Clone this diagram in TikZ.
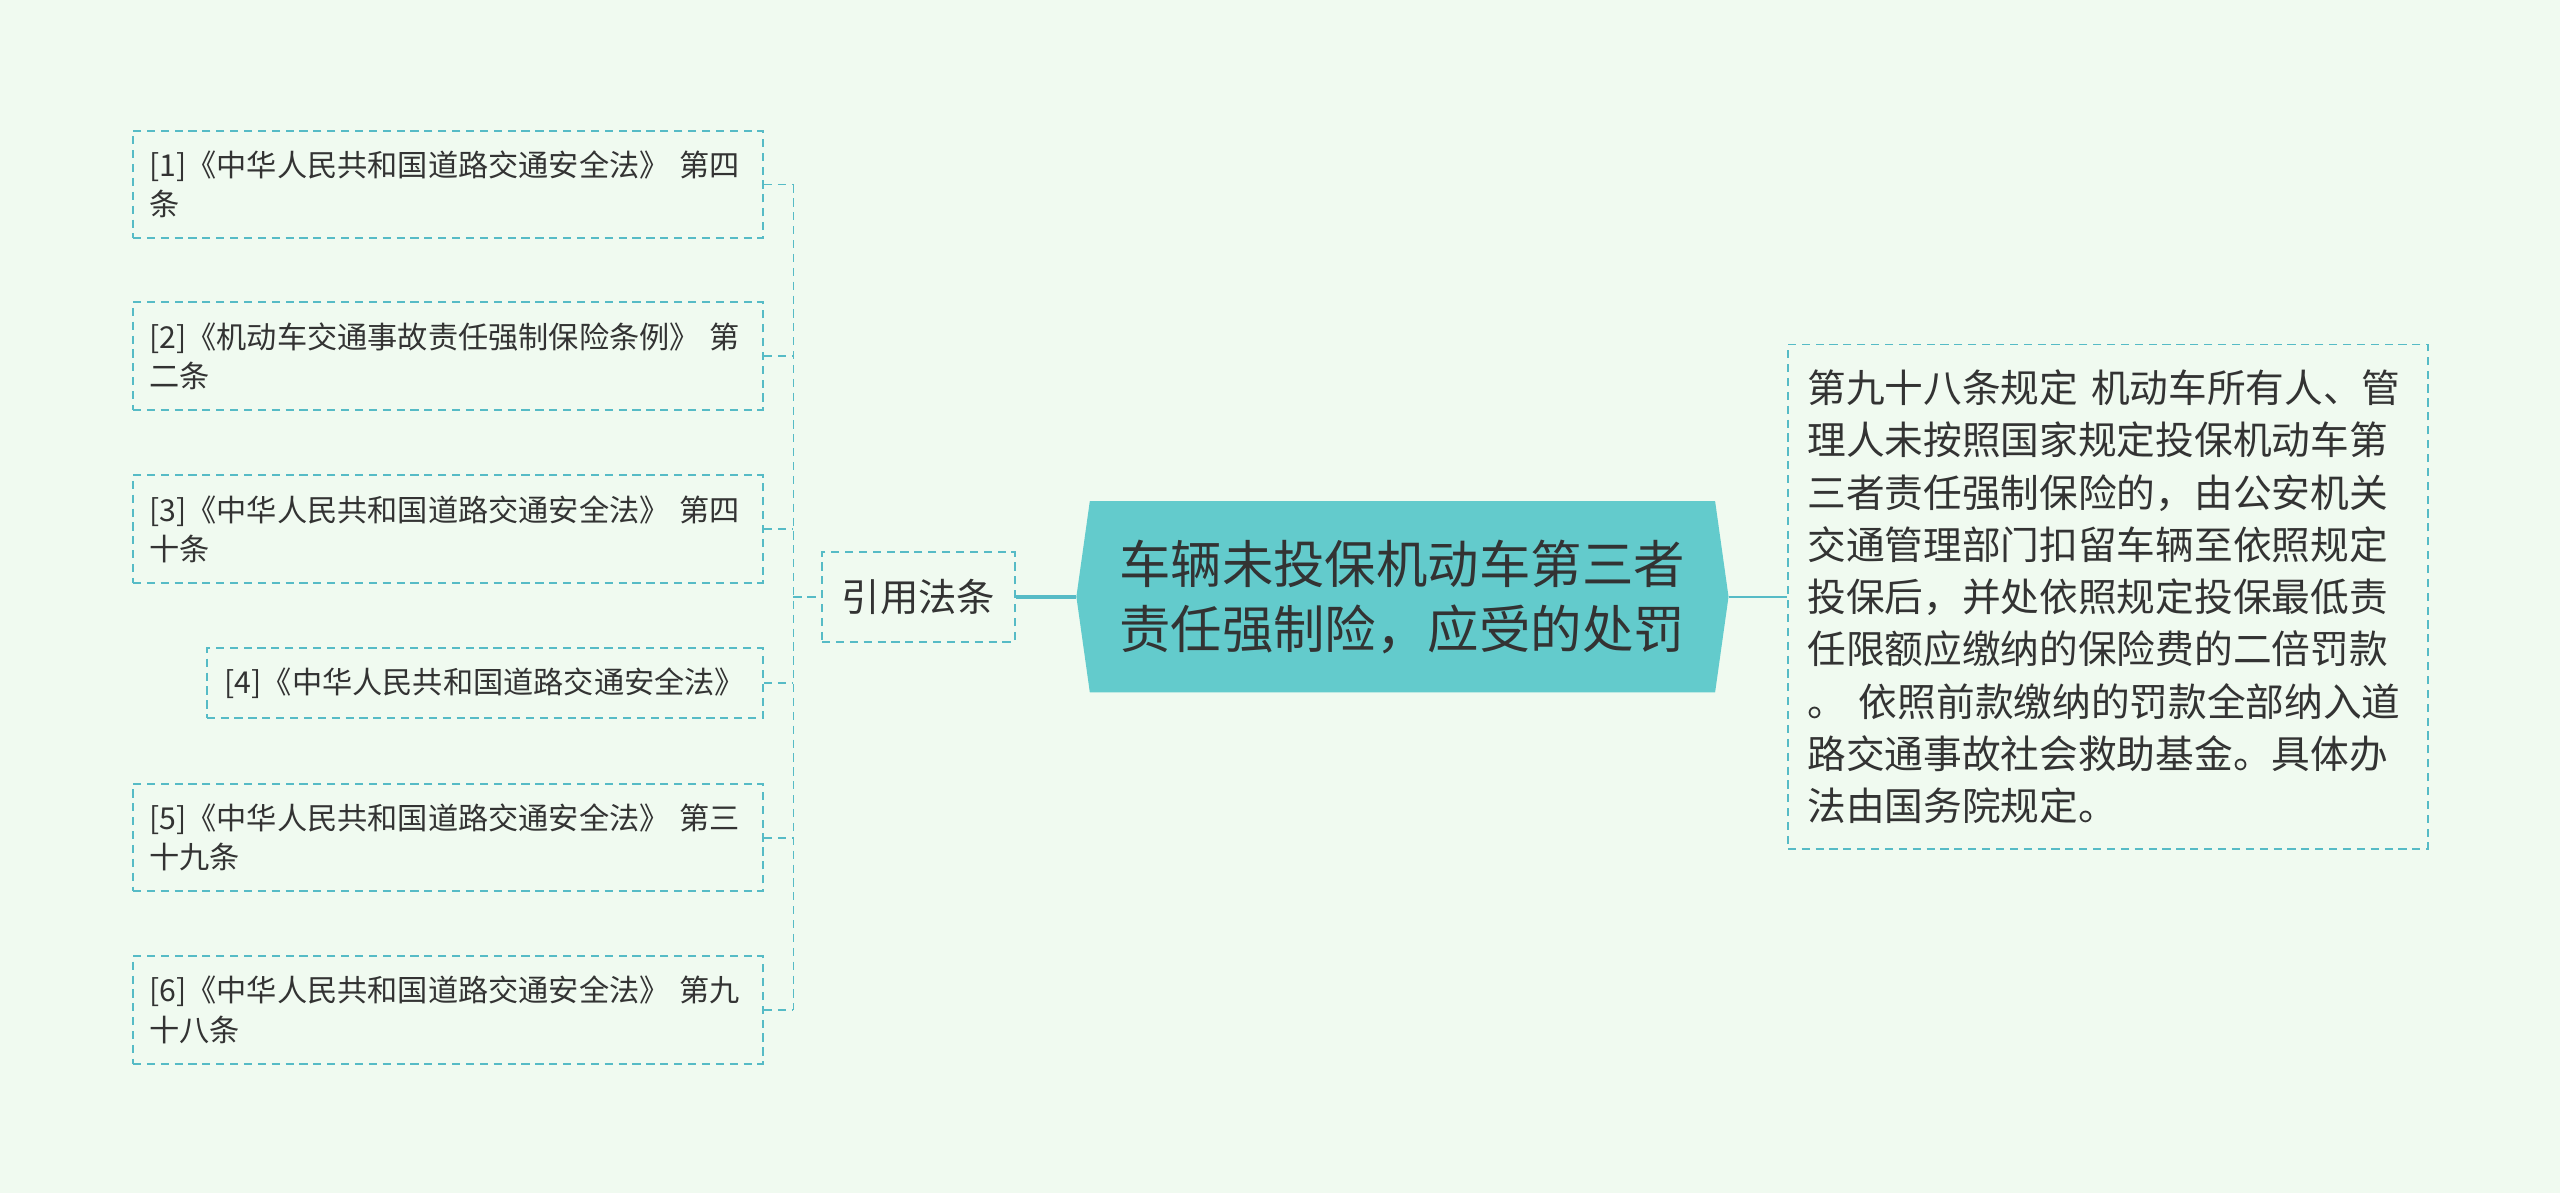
\documentclass[tikz,border=0pt]{standalone}
\usepackage{fontspec}
\setmainfont{Noto Sans CJK SC}
\usetikzlibrary{shapes.symbols}
\definecolor{bgmint}{HTML}{F0FAF0}
\definecolor{linkteal}{HTML}{56BBC6}
\definecolor{hubfill}{HTML}{63CBCC}
\definecolor{ink}{HTML}{333333}

\begin{document}
\begin{tikzpicture}[x=1pt,y=-1pt,
    lawbase/.style={draw=linkteal,dash pattern=on 5pt off 3.5pt,line width=1.2pt,text=ink,
        font=\fontsize{18.5pt}{24pt}\selectfont,align=left,anchor=east,inner xsep=10pt,inner ysep=0pt},
    lawbox/.style={lawbase,text width=366pt,minimum height=66pt},
    lawlink/.style={draw=linkteal,dash pattern=on 5pt off 3.5pt,line width=1.2pt},
    hublink/.style={draw=linkteal,line width=1.5pt}]

    \fill[bgmint] (0,0) rectangle (1568,731);
    \useasboundingbox (0,0) rectangle (1568,731);

    \coordinate (SPINE) at (486, 365.5);

    \node[lawbox] (LAW1) at (468, 113) {[1]《中华人民共和国道路交通安全法》 第四\\条};
    \node[lawbox] (LAW2) at (468, 218) {[2]《机动车交通事故责任强制保险条例》 第\\二条};
    \node[lawbox] (LAW3) at (468, 324) {[3]《中华人民共和国道路交通安全法》 第四\\十条};
    \node[lawbase,minimum height=43pt,inner xsep=11pt] (LAW4) at (468, 418.5) {[4]《中华人民共和国道路交通安全法》};
    \node[lawbox] (LAW5) at (468, 513) {[5]《中华人民共和国道路交通安全法》 第三\\十九条};
    \node[lawbox] (LAW6) at (468, 618.5) {[6]《中华人民共和国道路交通安全法》 第九\\十八条};

    \node[lawbase,anchor=center,font=\fontsize{23.5pt}{28pt}\selectfont,
        minimum height=55pt,inner xsep=12pt] (CITE) at (562.5, 365.5) {引用法条};

    \node[signal,signal to=west and east,signal pointer angle=164,fill=hubfill,text=ink,
        font=\fontsize{31.5pt}{40pt}\selectfont,align=left,text width=347pt,
        inner xsep=18pt,minimum height=117pt] (HUB) at (859, 365.5)
        {车辆未投保机动车第三者\\责任强制险，应受的处罚};

    \node[lawbase,anchor=center,font=\fontsize{23.7pt}{32pt}\selectfont,text width=368pt,
        inner xsep=12pt,minimum height=309pt] (RULE) at (1291, 365.5)
        {第九十八条规定 机动车所有人、管\\理人未按照国家规定投保机动车第\\三者责任强制保险的，由公安机关\\交通管理部门扣留车辆至依照规定\\投保后，并处依照规定投保最低责\\任限额应缴纳的保险费的二倍罚款\\。 依照前款缴纳的罚款全部纳入道\\路交通事故社会救助基金。具体办\\法由国务院规定。};

    \foreach \i in {1,...,6}
        \draw[lawlink] (LAW\i.east) -- (LAW\i.east -| SPINE);
    \draw[lawlink] (LAW1.east -| SPINE) -- (LAW6.east -| SPINE);
    \draw[lawlink] (SPINE) -- (CITE.west);
    \draw[hublink,line width=2.5pt] (CITE.east) -- (HUB.west);
    \draw[hublink] (HUB.east) -- (RULE.west);

\end{tikzpicture}
\end{document}
